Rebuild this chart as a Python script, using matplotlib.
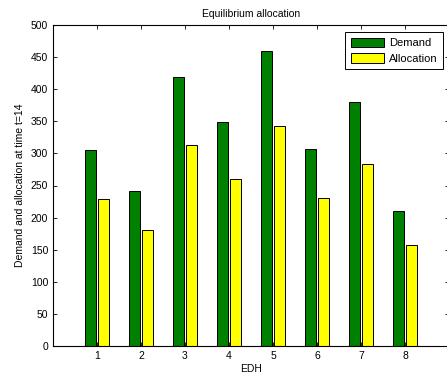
import numpy as np
import matplotlib.pyplot as plt

plt.rcParams['font.family'] = ['Liberation Sans', 'DejaVu Sans']

edh = [1, 2, 3, 4, 5, 6, 7, 8]
demand = [305, 242, 419, 349, 460, 307, 380, 211]
allocation = [229, 181, 313, 260, 343, 230, 284, 158]

fig = plt.figure(figsize=(4.47, 3.77), dpi=100)
ax = fig.add_axes([53 / 447, 1 - 346 / 377, 396 / 447, 321 / 377])

x = np.array(edh)
ax.bar(x - 0.145, demand, width=0.25, color='#008000', edgecolor='black', linewidth=0.7, label='Demand')
ax.bar(x + 0.15, allocation, width=0.235, color='#ffff00', edgecolor='black', linewidth=0.7, label='Allocation')

ax.set_xlim(0, 9)
ax.set_ylim(0, 500)
ax.set_xticks(edh)
ax.set_yticks(np.arange(0, 501, 50))
ax.tick_params(direction='in', top=True, right=True, labelsize=7.5, length=3, width=0.6)
for s in ax.spines.values():
    s.set_linewidth(0.8)

ax.set_title('Equilibrium allocation', fontsize=7.5, pad=6)
ax.set_xlabel('EDH', fontsize=7.5, labelpad=2)
ax.set_ylabel('Demand and allocation at time t=14', fontsize=7.5, labelpad=4)

leg = ax.legend(loc='upper left', bbox_to_anchor=((345 - 53) / 396, 1 - 7 / 321),
                fontsize=8, fancybox=False, edgecolor='black', framealpha=1,
                handlelength=3.0, handleheight=0.95, handletextpad=0.45, borderpad=0.5,
                labelspacing=0.45, borderaxespad=0)
leg.get_frame().set_linewidth(0.7)

fig.savefig('out.png', dpi=100)
